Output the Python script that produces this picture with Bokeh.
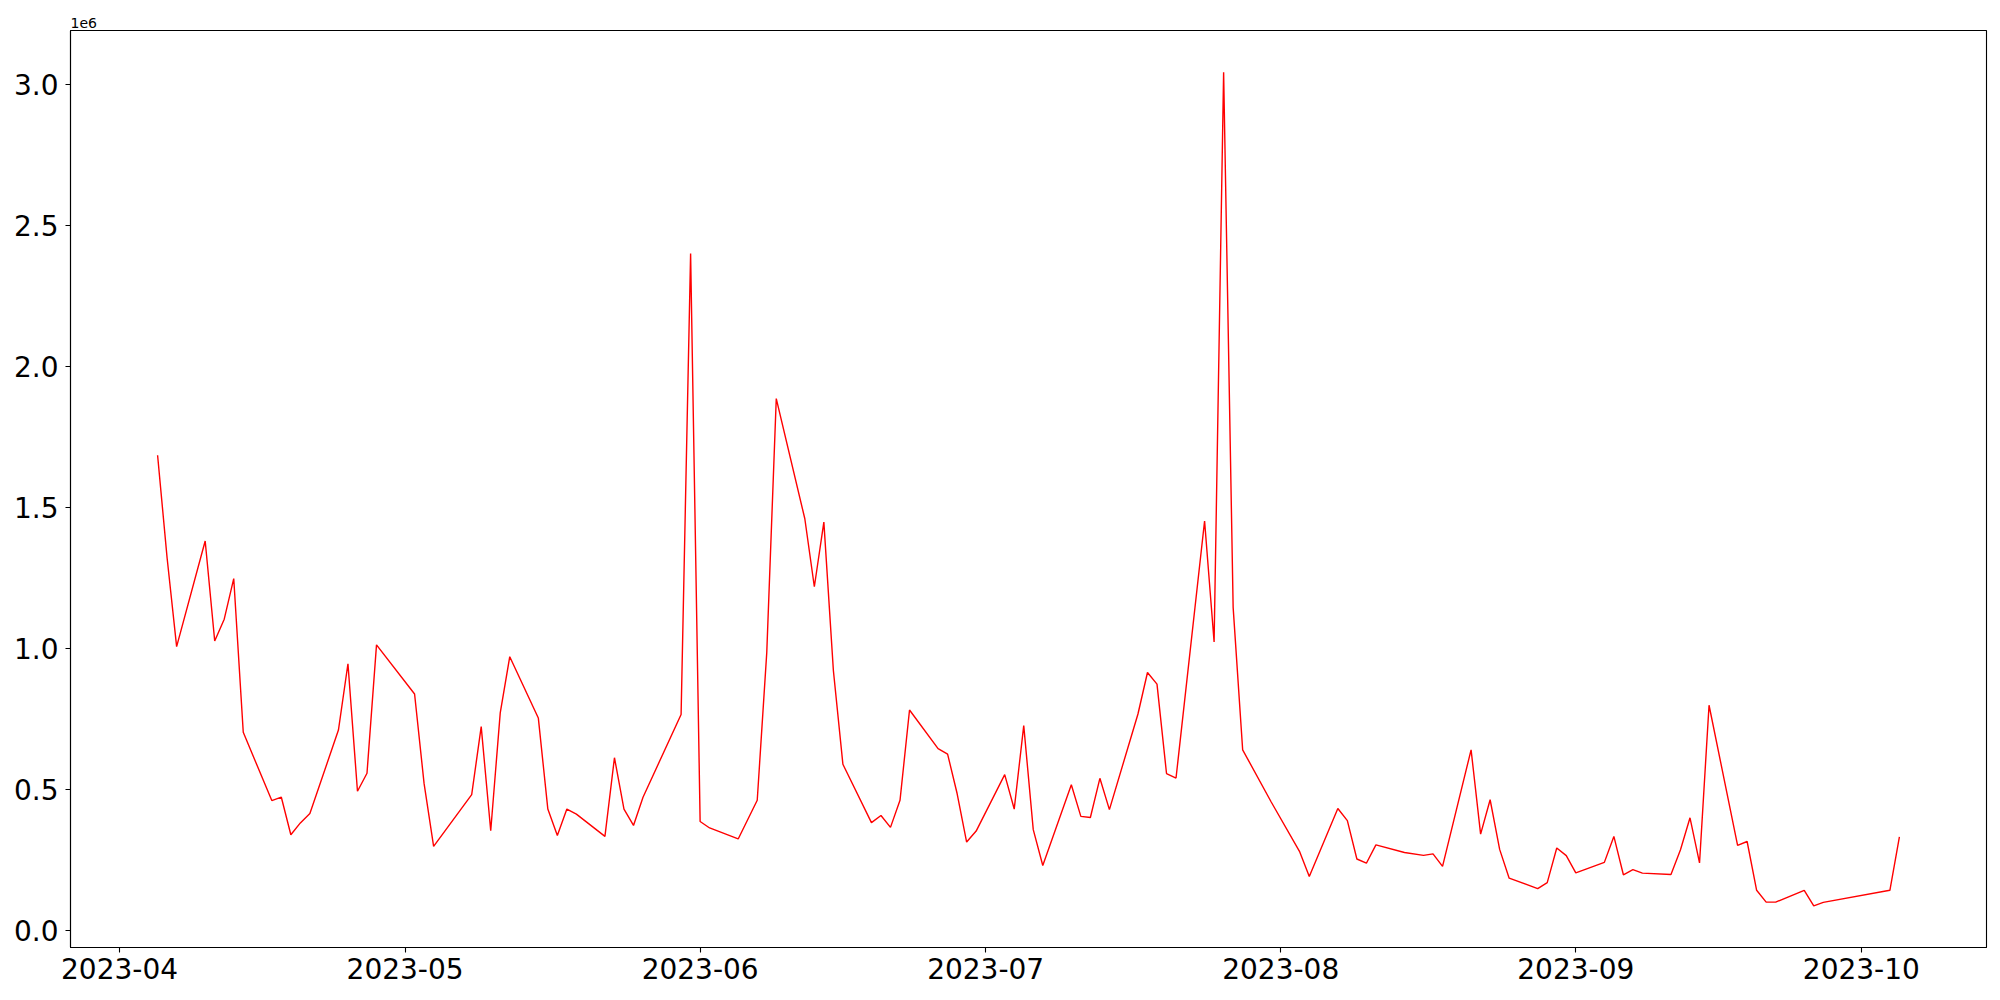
from datetime import datetime
from bokeh.plotting import figure
from bokeh.models import Range1d, FixedTicker, NumeralTickFormatter, Title, ColumnDataSource
from bokeh.embed import file_html
from bokeh.resources import INLINE

dates = [
    "2023-04-05", "2023-04-06", "2023-04-07", "2023-04-10", "2023-04-11", "2023-04-12", "2023-04-13", "2023-04-14",
    "2023-04-17", "2023-04-18", "2023-04-19", "2023-04-20", "2023-04-21", "2023-04-24", "2023-04-25", "2023-04-26",
    "2023-04-27", "2023-04-28", "2023-05-02", "2023-05-03", "2023-05-04", "2023-05-08", "2023-05-09", "2023-05-10",
    "2023-05-11", "2023-05-12", "2023-05-15", "2023-05-16", "2023-05-17", "2023-05-18", "2023-05-19", "2023-05-22",
    "2023-05-23", "2023-05-24", "2023-05-25", "2023-05-26", "2023-05-30", "2023-05-31", "2023-06-01", "2023-06-02",
    "2023-06-05", "2023-06-07", "2023-06-08", "2023-06-09", "2023-06-12", "2023-06-13", "2023-06-14", "2023-06-15",
    "2023-06-16", "2023-06-19", "2023-06-20", "2023-06-21", "2023-06-22", "2023-06-23", "2023-06-26", "2023-06-27",
    "2023-06-28", "2023-06-29", "2023-06-30", "2023-07-03", "2023-07-04", "2023-07-05", "2023-07-06", "2023-07-07",
    "2023-07-10", "2023-07-11", "2023-07-12", "2023-07-13", "2023-07-14", "2023-07-17", "2023-07-18", "2023-07-19",
    "2023-07-20", "2023-07-21", "2023-07-24", "2023-07-25", "2023-07-26", "2023-07-27", "2023-07-28", "2023-07-31",
    "2023-08-03", "2023-08-04", "2023-08-07", "2023-08-08", "2023-08-09", "2023-08-10", "2023-08-11", "2023-08-14",
    "2023-08-16", "2023-08-17", "2023-08-18", "2023-08-21", "2023-08-22", "2023-08-23", "2023-08-24", "2023-08-25",
    "2023-08-28", "2023-08-29", "2023-08-30", "2023-08-31", "2023-09-01", "2023-09-04", "2023-09-05", "2023-09-06",
    "2023-09-07", "2023-09-08", "2023-09-11", "2023-09-12", "2023-09-13", "2023-09-14", "2023-09-15", "2023-09-18",
    "2023-09-19", "2023-09-20", "2023-09-21", "2023-09-22", "2023-09-25", "2023-09-26", "2023-09-27", "2023-10-04",
    "2023-10-05",
]

# values in units of 1e6
values = [
    1.684, 1.32, 1.006, 1.380, 1.026, 1.103, 1.247, 0.702,
    0.460, 0.472, 0.339, 0.381, 0.414, 0.710, 0.945, 0.493,
    0.557, 1.012, 0.838, 0.52, 0.298, 0.481, 0.722, 0.353,
    0.771, 0.970, 0.753, 0.430, 0.336, 0.430, 0.412, 0.333,
    0.612, 0.430, 0.372, 0.472, 0.765, 2.399, 0.386, 0.363,
    0.324, 0.461, 0.984, 1.885, 1.459, 1.218, 1.447, 0.921,
    0.589, 0.382, 0.407, 0.365, 0.461, 0.781, 0.644, 0.625,
    0.485, 0.313, 0.352, 0.552, 0.430, 0.726, 0.357, 0.230,
    0.516, 0.404, 0.400, 0.539, 0.428, 0.767, 0.914, 0.873,
    0.556, 0.540, 1.451, 1.022, 3.042, 1.145, 0.640, 0.455,
    0.278, 0.191, 0.432, 0.389, 0.253, 0.238, 0.303, 0.276,
    0.266, 0.271, 0.227, 0.640, 0.341, 0.463, 0.287, 0.185,
    0.148, 0.169, 0.292, 0.265, 0.204, 0.241, 0.333, 0.197,
    0.215, 0.203, 0.198, 0.286, 0.399, 0.239, 0.798, 0.301,
    0.315, 0.142, 0.100, 0.100, 0.142, 0.087, 0.099, 0.142,
    0.331,
]

x_tick_labels = ["2023-04", "2023-05", "2023-06", "2023-07", "2023-08", "2023-09", "2023-10"]
y_ticks = [0.0, 0.5, 1.0, 1.5, 2.0, 2.5, 3.0]
offset_text = "1e6"

xs = [datetime.strptime(d, "%Y-%m-%d") for d in dates]
src = ColumnDataSource(dict(x=xs, y=values))

xmin, xmax = min(xs), max(xs)
xpad = (xmax - xmin) * 0.05
ymin, ymax = min(values), max(values)
ypad = (ymax - ymin) * 0.05
x_range = Range1d(xmin - xpad, xmax + xpad)
y_range = Range1d(ymin - ypad, ymax + ypad)

p = figure(
    x_axis_type="datetime", x_range=x_range, y_range=y_range,
    frame_width=1916, frame_height=917,
    min_border_left=70, min_border_top=30, min_border_right=7, min_border_bottom=45,
    output_backend="svg", toolbar_location=None,
    background_fill_color="white", border_fill_color="white",
)
p.line("x", "y", source=src, line_color="#ff0000", line_width=1.4)

epoch = datetime(1970, 1, 1)
tick_ms = [(datetime.strptime(t, "%Y-%m") - epoch).total_seconds() * 1000.0 for t in x_tick_labels]
p.xaxis.ticker = FixedTicker(ticks=tick_ms)
p.xaxis.major_label_overrides = {ms: lab for ms, lab in zip(tick_ms, x_tick_labels)}
p.yaxis.ticker = FixedTicker(ticks=y_ticks)
p.yaxis.formatter = NumeralTickFormatter(format="0.0")

for ax in (p.xaxis[0], p.yaxis[0]):
    ax.major_label_text_font = "DejaVu Sans"
    ax.major_label_text_font_size = "28px"
    ax.major_label_text_color = "black"
    ax.axis_line_color = "black"
    ax.axis_line_width = 1.1
    ax.major_tick_line_color = "black"
    ax.major_tick_line_width = 1.1
    ax.major_tick_out = 5
    ax.major_tick_in = 0
    ax.minor_tick_out = 0
    ax.minor_tick_in = 0
p.xaxis.major_label_standoff = 5
p.yaxis.major_label_standoff = 7

p.xgrid.visible = False
p.ygrid.visible = False
p.outline_line_color = "black"
p.outline_line_width = 1.1
p.outline_line_alpha = 1.0

p.add_layout(Title(
    text=offset_text, align="left", text_font="DejaVu Sans", text_font_size="14px",
    text_font_style="normal", text_color="black", standoff=5, offset=0,
), "above")

open("out.html", "w").write(file_html(p, INLINE))
